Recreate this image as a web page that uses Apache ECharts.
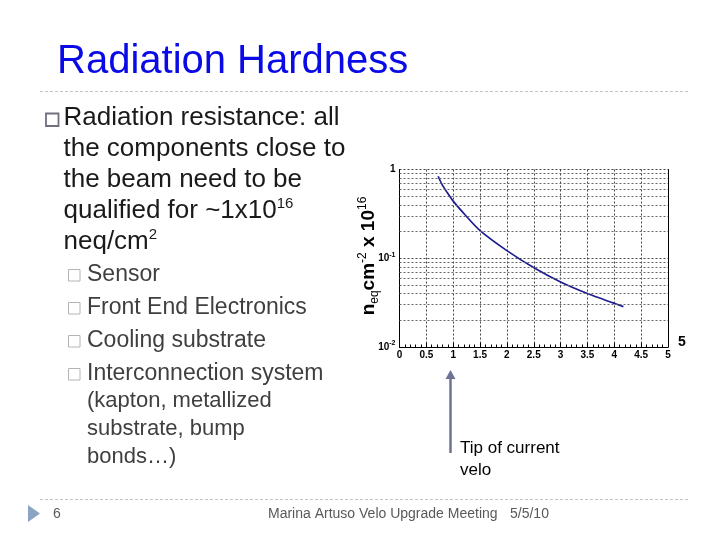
<!DOCTYPE html>
<html>
<head>
<meta charset="utf-8">
<script src="https://cdn.jsdelivr.net/npm/echarts@6/dist/echarts.min.js"></script>
<style>
html,body{margin:0;padding:0;background:#fff;}
#chart{width:720px;height:540px;}
</style>
</head>
<body>
<div id="chart"></div>
<script>
// ---- data ----
var radiusCm = [0.72, 0.786, 0.88, 1.00, 1.22, 1.50, 2.00, 2.52, 3.00, 3.50, 4.00, 4.17];
var fluence  = [0.84, 0.69, 0.56, 0.44, 0.309, 0.205, 0.122, 0.077, 0.054, 0.040, 0.031, 0.0285];
var yTickValues = [0.01, 0.1, 1];
var yTickText = [['10', '-2'], ['10', '-1'], ['1', '']];
var yMinorGrid = [0.02, 0.03, 0.04, 0.05, 0.06, 0.07, 0.08, 0.09, 0.2, 0.3, 0.4, 0.5, 0.6, 0.7, 0.8, 0.9];
var titleText = 'Radiation Hardness';
var mainBulletLines = [
  '{m|Radiation resistance: all}',
  '{m|the components close to}',
  '{m|the beam need to be}',
  '{m|qualified for ~1x10}{sup|16}',
  '{m|neq/cm}{sup|2}'
];
var subBullets = ['Sensor', 'Front End Electronics', 'Cooling substrate', 'Interconnection system'];
var subContinuation = ['(kapton, metallized', 'substrate, bump', 'bonds…)'];
var arrowNote = ['Tip of current', 'velo'];
var footerText = 'Marina Artuso Velo Upgrade Meeting';
var footerDate = '5/5/10';
var pageNumber = '6';
var strayLabel = '5';

var FONT = '"Liberation Sans", Arial, sans-serif';

var graphics = [];
function txt(x, y, text, size, color, extra) {
  var st = {text: text, fontFamily: FONT, fontSize: size, fill: color,
    textAlign: 'left', textVerticalAlign: 'middle'};
  if (extra) for (var k in extra) st[k] = extra[k];
  return {type: 'text', x: x, y: y, silent: true, style: st};
}
// title
graphics.push(txt(57, 62, titleText, 40, '#0a0ae6'));
// separators
graphics.push({type: 'line', silent: true, shape: {x1: 40, y1: 91.5, x2: 690, y2: 91.5},
  style: {stroke: '#c3c3c3', lineWidth: 1, lineDash: [3, 2]}});
graphics.push({type: 'line', silent: true, shape: {x1: 40, y1: 499.5, x2: 690, y2: 499.5},
  style: {stroke: '#c3c3c3', lineWidth: 1, lineDash: [3, 2]}});
// main bullet
graphics.push({type: 'rect', silent: true, shape: {x: 46, y: 113.5, width: 12.5, height: 12.5},
  style: {fill: 'none', stroke: '#70707e', lineWidth: 1.8}});
var mainY = [118, 149, 180, 211, 242];
mainBulletLines.forEach(function (t, i) {
  graphics.push(txt(63.5, mainY[i], t, 26, '#1a1a1a', {
    rich: {
      m: {fontFamily: FONT, fontSize: 26, fill: '#1a1a1a', lineHeight: 30, verticalAlign: 'middle'},
      sup: {fontFamily: FONT, fontSize: 15, fill: '#1a1a1a', lineHeight: 16, verticalAlign: 'top'}
    }
  }));
});
// sub bullets
var subY = [275, 308, 341, 374];
subBullets.forEach(function (t, i) {
  graphics.push({type: 'rect', silent: true, shape: {x: 68.5, y: subY[i] - 5.5, width: 11.5, height: 11.5},
    style: {fill: 'none', stroke: '#b4b4b4', lineWidth: 1}});
  graphics.push(txt(87, subY[i], t, 23, '#3f3f3f'));
});
var contY = [400.5, 428.5, 456.5];
subContinuation.forEach(function (t, i) {
  graphics.push(txt(87, contY[i], t, 22, '#3f3f3f'));
});
// y axis name
graphics.push({type: 'text', x: 369, y: 256, rotation: Math.PI / 2, silent: true,
  style: {text: '{n|n}{sub|eq}{n|cm}{sup|-2}{n| x 10}{sup|16}', textAlign: 'center', textVerticalAlign: 'middle',
    rich: {
      n: {fontFamily: FONT, fontSize: 19, fontWeight: 'bold', fill: '#000', lineHeight: 24, verticalAlign: 'middle'},
      sub: {fontFamily: FONT, fontSize: 12, fill: '#000', lineHeight: 12, verticalAlign: 'bottom'},
      sup: {fontFamily: FONT, fontSize: 12, fill: '#000', lineHeight: 12, verticalAlign: 'top'}
    }}});
// stray label
graphics.push(txt(678, 342, strayLabel, 14, '#000', {fontWeight: 'bold'}));
// arrow
graphics.push({type: 'line', silent: true, shape: {x1: 450.5, y1: 453, x2: 450.5, y2: 376},
  style: {stroke: '#6f7393', lineWidth: 2.5}});
graphics.push({type: 'polygon', silent: true, shape: {points: [[445.5, 379], [450.5, 370], [455.5, 379]]},
  style: {fill: '#6f7393'}});
graphics.push(txt(460, 448.5, arrowNote[0], 17, '#000'));
graphics.push(txt(460, 470, arrowNote[1], 17, '#000'));
// footer
graphics.push({type: 'polygon', silent: true, shape: {points: [[28, 505], [40, 513.5], [28, 522]]},
  style: {fill: '#8da3c4'}});
graphics.push(txt(53, 514, pageNumber, 14, '#595959'));
graphics.push(txt(268, 514, footerText, 14, '#595959'));
graphics.push(txt(510, 514, footerDate, 14, '#595959'));

var chart = echarts.init(document.getElementById('chart'));
chart.setOption({
  animation: false,
  backgroundColor: '#fff',
  grid: {left: 399.5, top: 169.5, right: 52, bottom: 193, containLabel: false},
  xAxis: {
    type: 'value', min: 0, max: 5, interval: 0.5,
    axisLine: {show: true, onZero: false, lineStyle: {color: '#000', width: 1}},
    axisTick: {show: true, inside: true, length: 4, lineStyle: {color: '#000'}},
    minorTick: {show: true, splitNumber: 5, length: 2.5, lineStyle: {color: '#000'}},
    axisLabel: {fontFamily: FONT, fontSize: 10, fontWeight: 'bold', color: '#000', margin: 3},
    splitLine: {show: true, lineStyle: {color: '#444', type: [2, 2], width: 1}}
  },
  yAxis: [{
    type: 'log', logBase: 10, min: 0.01, max: 1,
    axisLine: {show: true, lineStyle: {color: '#000', width: 1}},
    axisTick: {show: false},
    splitLine: {show: true, lineStyle: {color: '#444', type: [2, 2], width: 1}},
    axisLabel: {
      margin: 4,
      formatter: function (v) {
        var idx = 0, best = Infinity;
        yTickValues.forEach(function (tv, i) { var d = Math.abs(Math.log10(tv) - Math.log10(v)); if (d < best) { best = d; idx = i; } });
        var p = yTickText[idx];
        return p[1] ? '{b|' + p[0] + '}{s|' + p[1] + '}' : '{b|' + p[0] + '}';
      },
      rich: {
        b: {fontFamily: FONT, fontSize: 10, fontWeight: 'bold', color: '#000', lineHeight: 14, verticalAlign: 'middle'},
        s: {fontFamily: FONT, fontSize: 7, fontWeight: 'bold', color: '#000', lineHeight: 8, verticalAlign: 'top'}
      }
    }
  }, {
    type: 'value', position: 'right', min: 0, max: 1,
    axisLine: {show: true, lineStyle: {color: '#000', width: 1}},
    axisTick: {show: false}, axisLabel: {show: false}, splitLine: {show: false}
  }],
  series: [{
    type: 'line',
    yAxisIndex: 0,
    data: radiusCm.map(function (x, i) { return [x, fluence[i]]; }),
    showSymbol: false,
    smooth: 0.3,
    lineStyle: {color: '#1d1d8f', width: 1.7},
    markLine: {
      silent: true, symbol: 'none', animation: false,
      label: {show: false},
      lineStyle: {color: '#666', type: [2, 2], width: 1},
      data: yMinorGrid.map(function (v) { return {yAxis: v}; })
    }
  }],
  graphic: graphics
});
</script>
</body>
</html>
